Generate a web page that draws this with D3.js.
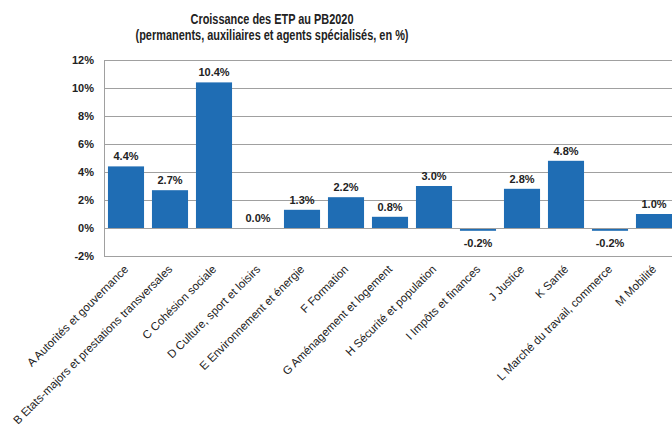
<!DOCTYPE html>
<html><head><meta charset="utf-8">
<script src="https://cdn.jsdelivr.net/npm/d3@7"></script>
<style>body{margin:0;background:#fff}svg{display:block;font-family:"Liberation Sans",Arial,sans-serif}</style>
</head><body><svg id="c" width="672" height="429"></svg>
<script>
const categories = ["A Autorités et gouvernance","B Etats-majors et prestations transversales","C Cohésion sociale","D Culture, sport et loisirs","E Environnement et énergie","F Formation","G Aménagement et logement","H Sécurité et population","I Impôts et finances","J Justice","K Santé","L Marché du travail, commerce","M Mobilité"];
const values = [4.4, 2.7, 10.4, 0.0, 1.3, 2.2, 0.8, 3.0, -0.2, 2.8, 4.8, -0.2, 1.0];
const yTicks = [-2, 0, 2, 4, 6, 8, 10, 12];
const titleLines = ["Croissance des ETP au PB2020", "(permanents, auxiliaires et agents spécialisés, en %)"];

(function () {
const svg = d3.select("#c");
const mLeft = 104, mRight = 676, mTop = 60, mBottom = 256;
const x = d3.scaleBand().domain(categories).range([mLeft, mRight]).paddingInner(0.18).paddingOuter(0.09);
const y = d3.scaleLinear().domain([-2, 12]).range([mBottom, mTop]);
const titleWidths = [163, 273];

svg.selectAll("text.title").data(titleLines).join("text")
  .attr("class", "title")
  .attr("x", 272).attr("y", (d, i) => 24 + i * 16)
  .attr("text-anchor", "middle").attr("font-weight", "bold").attr("font-size", 14).attr("fill", "#222")
  .attr("textLength", (d, i) => titleWidths[i]).attr("lengthAdjust", "spacingAndGlyphs")
  .text(d => d);

svg.append("g").selectAll("line").data(yTicks).join("line")
  .attr("x1", mLeft).attr("x2", 672).attr("y1", d => y(d)).attr("y2", d => y(d))
  .attr("stroke", "#a0a0a0").attr("stroke-width", 1).attr("shape-rendering", "crispEdges");

const yAxis = svg.append("g").attr("transform", `translate(${mLeft},0)`)
  .call(d3.axisLeft(y).tickValues(yTicks).tickSize(0).tickPadding(10).tickFormat(d => d + "%"));
yAxis.select(".domain").attr("stroke", "#a0a0a0").attr("shape-rendering", "crispEdges");
yAxis.selectAll("text").attr("font-size", 11).attr("font-weight", "bold").attr("fill", "#222")
  .attr("font-family", "Liberation Sans, Arial, sans-serif");

svg.append("g").selectAll("rect").data(values).join("rect")
  .attr("x", (d, i) => x(categories[i]))
  .attr("width", x.bandwidth())
  .attr("y", d => y(Math.max(0, d)))
  .attr("height", d => Math.abs(y(d) - y(0)))
  .attr("fill", "#1f6db4");

svg.append("line").attr("x1", mLeft).attr("x2", 672).attr("y1", y(0)).attr("y2", y(0))
  .attr("stroke", "#a0a0a0").attr("shape-rendering", "crispEdges");

svg.append("g").selectAll("text").data(values).join("text")
  .attr("x", (d, i) => x(categories[i]) + x.bandwidth() / 2)
  .attr("y", d => d < 0 ? y(d) + 16 : y(d) - 6)
  .attr("text-anchor", "middle").attr("font-size", 11).attr("font-weight", "bold").attr("fill", "#222")
  .text(d => d.toFixed(1) + "%");

svg.append("g").selectAll("text").data(categories).join("text")
  .attr("transform", d => `translate(${x(d) + x.bandwidth() / 2 + 3},${mBottom + 14}) rotate(-45)`)
  .attr("text-anchor", "end").attr("font-size", 11.5).attr("fill", "#222")
  .text(d => d);
})();
</script></body></html>
